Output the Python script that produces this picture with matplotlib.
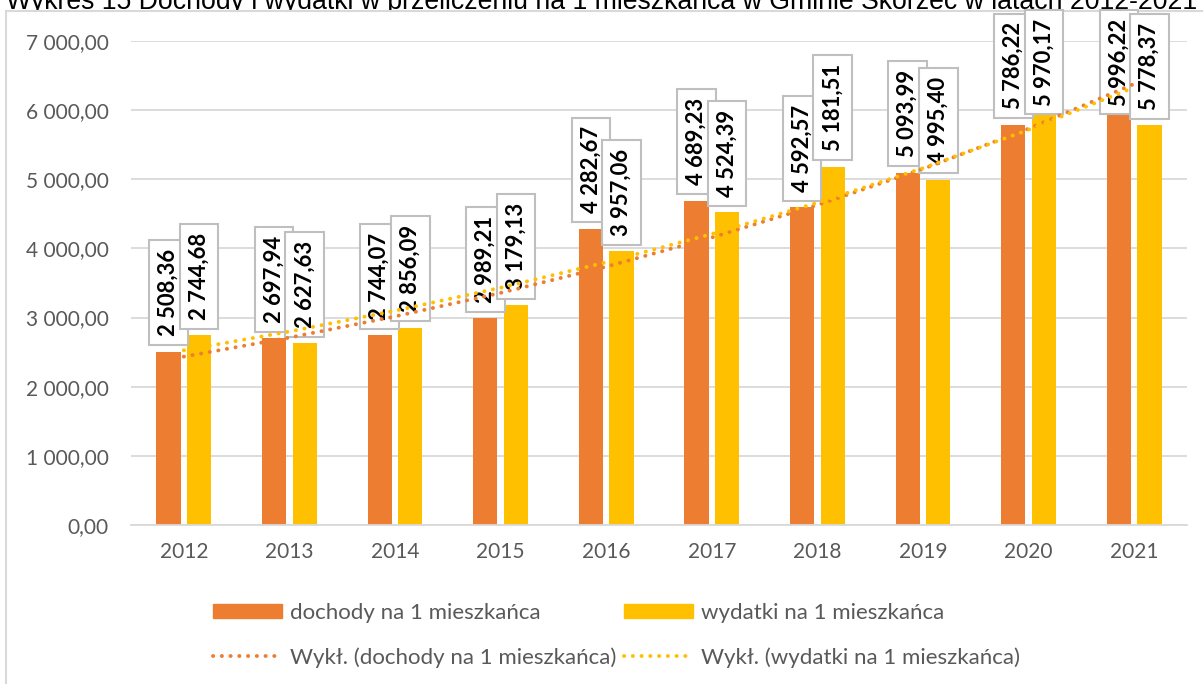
import numpy as np
import matplotlib
matplotlib.use("Agg")
import matplotlib.pyplot as plt
from matplotlib.patches import Rectangle, Patch
from matplotlib.lines import Line2D

# Data
years = ['2012', '2013', '2014', '2015', '2016', '2017', '2018', '2019', '2020', '2021']
dochody = [2508.36, 2697.94, 2744.07, 2989.21, 4282.67, 4689.23, 4592.57, 5093.99, 5786.22, 5996.22]
wydatki = [2744.68, 2627.63, 2856.09, 3179.13, 3957.06, 4524.39, 5181.51, 4995.40, 5970.17, 5778.37]
yticks = [0, 1000, 2000, 3000, 4000, 5000, 6000, 7000]

title = 'Wykres 15 Dochody i wydatki w przeliczeniu na 1 mieszkańca w Gminie Skórzec w latach 2012-2021'
label_doch = 'dochody na 1 mieszkańca'
label_wyd = 'wydatki na 1 mieszkańca'

ORANGE = '#ED7D31'
YELLOW = '#FFC000'
GRID = '#D9D9D9'
TEXT = '#595959'
DOTS = (0, (0.05, 2.2))

W_PX, H_PX = 1203, 684


def fmt_pl(v):
    """ Polish number format: space as thousands separator, comma decimal. """
    s = f'{v:,.2f}'
    return s.replace(',', ' ').replace('.', ',')


def exp_trend(values):
    """ Exponential trendline as Excel computes it (fit on ln y vs 1..n). """
    xs = np.arange(1, len(values) + 1)
    b, a = np.polyfit(xs, np.log(values), 1)
    return np.exp(a) * np.exp(b * xs)


plt.rcParams['font.family'] = ['Lato', 'DejaVu Sans']

fig = plt.figure(figsize=(W_PX / 100, H_PX / 100), dpi=100)
ax = fig.add_axes([131 / W_PX, 1 - 525 / H_PX, (1187 - 131) / W_PX, 484 / H_PX], zorder=2)

# title sits behind the chart frame, so its lower part is hidden (as in the source)
fig.text(1197 / W_PX, 1 - 9 / H_PX, title, ha='right', va='baseline',
         fontsize=19.2, family='Liberation Sans', color='black', zorder=0.5)
fig.patches.append(Rectangle((6 / W_PX, -0.05), 1.2, 1 - 11 / H_PX + 0.05,
                             transform=fig.transFigure, facecolor='white',
                             edgecolor=GRID, linewidth=1.5, zorder=1))
ax.patch.set_alpha(0)

x = np.arange(len(years))
w = 0.23
off = 0.145
bars_d = ax.bar(x - off, dochody, w, color=ORANGE, zorder=2)
bars_w = ax.bar(x + off, wydatki, w, color=YELLOW, zorder=2)

ax.set_xlim(-0.5, len(years) - 0.5)
ax.set_ylim(0, 7000)

# data labels: box ~100 px tall, 8 px above the bar, kept inside the chart frame
box_h = 100
for bars, vals in ((bars_d, dochody), (bars_w, wydatki)):
    for b, v in zip(bars, vals):
        top_px = 41 + (7000 - v) / 7000 * 484
        bottom = top_px - 9
        if bottom - box_h < 12:
            bottom = 12 + box_h
        centre = bottom - box_h / 2
        ax.annotate(fmt_pl(v), (b.get_x() + b.get_width() / 2, v),
                    xytext=(0, (top_px - centre) * 0.72), textcoords='offset points',
                    rotation=90, ha='center', va='center',
                    fontsize=15.8, fontweight='bold', color='black', zorder=3,
                    bbox=dict(boxstyle='square,pad=0.4', facecolor='white',
                              edgecolor='#BFBFBF', linewidth=1.5))

tr_d = exp_trend(dochody)
tr_w = exp_trend(wydatki)
ax.plot(x, tr_d, color=ORANGE, linestyle=DOTS, linewidth=2.8,
        dash_capstyle='round', zorder=4)
ax.plot(x, tr_w, color=YELLOW, linestyle=DOTS, linewidth=2.8,
        dash_capstyle='round', zorder=4)

ax.set_yticks(yticks)
ax.set_yticklabels([fmt_pl(t) for t in yticks])
ax.set_xticks(x)
ax.set_xticklabels(years)
ax.tick_params(axis='both', length=0, labelsize=15, labelcolor=TEXT)
ax.tick_params(axis='y', pad=16)
ax.tick_params(axis='x', pad=12)
ax.grid(axis='y', color=GRID, linewidth=1.3, zorder=0)
ax.set_axisbelow(True)
for s in ('top', 'right', 'left'):
    ax.spines[s].set_visible(False)
ax.spines['bottom'].set_color(GRID)
ax.spines['bottom'].set_linewidth(1.3)

handles = [Patch(color=ORANGE),
           Line2D([], [], color=ORANGE, linestyle=DOTS, linewidth=2.8, dash_capstyle='round'),
           Patch(color=YELLOW),
           Line2D([], [], color=YELLOW, linestyle=DOTS, linewidth=2.8, dash_capstyle='round')]
labels = [label_doch, 'Wykł. (' + label_doch + ')', label_wyd, 'Wykł. (' + label_wyd + ')']
leg = fig.legend(handles, labels, ncol=2, loc='upper left',
                 bbox_to_anchor=(213 / W_PX, 1 - 603 / H_PX), frameon=False,
                 borderaxespad=0, borderpad=0,
                 fontsize=16, labelcolor=TEXT, handlelength=3.1, handleheight=0.63,
                 handletextpad=0.36, columnspacing=0.36, labelspacing=1.1)
leg.set_zorder(3)

fig.savefig('out.png', dpi=100)
